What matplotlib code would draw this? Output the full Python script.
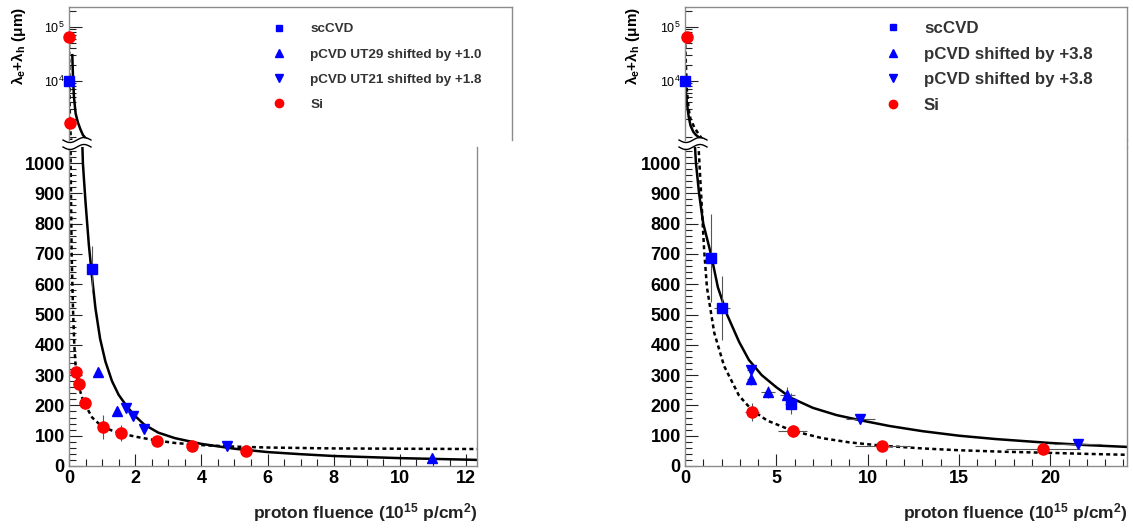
import numpy as np
import matplotlib.pyplot as plt
from matplotlib.lines import Line2D
from matplotlib.patches import Polygon
from matplotlib.ticker import MultipleLocator, LogLocator, FixedLocator, NullFormatter

plt.rcParams['font.family'] = ['Liberation Sans', 'DejaVu Sans']
plt.rcParams['mathtext.fontset'] = 'custom'
plt.rcParams['mathtext.rm'] = 'Liberation Sans:bold'
plt.rcParams['mathtext.bf'] = 'Liberation Sans:bold'
plt.rcParams['mathtext.it'] = 'Liberation Sans:italic'

# ---------------- data: left panel (fluence 1e15 p/cm2, lambda um) ----------------
sc_x_L = [0.0, 0.68]
sc_y_L = [10000, 650]
sc_ye_L = [2500, 75]
up_x_L = [0.88, 1.45, 10.96]
up_y_L = [310, 182, 26]
up_ye_L = [10, 12, 8]
dn_x_L = [1.72, 1.93, 2.27, 4.77]
dn_y_L = [190, 165, 122, 66]
dn_ye_L = [12, 10, 10, 8]
si_x_L = [0.0, 0.03, 0.21, 0.30, 0.48, 1.03, 1.57, 2.66, 3.72, 5.35]
si_y_L = [65000, 1660, 310, 270, 208, 129, 109, 83, 66, 50]
si_ye_L = [5000, 150, 20, 25, 20, 40, 25, 10, 8, 6]

fit_sc_x_L = [0.1, 0.12, 0.15, 0.2, 0.27, 0.35, 0.42, 0.45, 0.5, 0.6, 0.69, 0.8, 0.94,
              1.1, 1.3, 1.5, 1.76, 2.0, 2.27, 2.7, 3.2, 4, 5, 6, 7, 8, 10, 12.4]
fit_sc_y_L = [30000, 12000, 5000, 2500, 1700, 1250, 1000, 950, 870, 730, 630, 520, 420,
              345, 280, 235, 195, 165, 137, 110, 92, 73, 57, 46, 39, 33, 26, 20]
fit_si_x_L = [0.0, 0.01, 0.02, 0.03, 0.05, 0.08, 0.12, 0.16, 0.2, 0.25, 0.3, 0.4, 0.5,
              0.7, 1.0, 1.3, 1.6, 2.0, 2.6, 3.2, 4, 5, 6, 8, 10, 12.4]
fit_si_y_L = [65000, 15000, 4000, 1700, 1000, 700, 520, 400, 330, 290, 260, 225, 200,
              160, 130, 117, 107, 97, 85, 76, 69, 64, 61, 58, 57, 56]

# ---------------- data: right panel ----------------
sc_x_R = [0.0, 1.42, 2.03, 5.8]
sc_y_R = [10000, 686, 521, 205]
sc_ye_R = [0, 145, 105, 35]
sc_xe_R = [0, 0.3, 0.45, 0.3]
up_x_R = [3.6, 4.55, 5.6]
up_y_R = [287, 245, 235]
up_ye_R = [20, 20, 25]
up_xe_R = [0.2, 0.4, 0.4]
dn_x_R = [3.6, 9.6, 21.5]
dn_y_R = [317, 155, 73]
dn_ye_R = [20, 15, 15]
dn_xe_R = [0.2, 0.8, 1.3]
si_x_R = [0.1, 3.66, 5.9, 10.8, 19.6]
si_y_R = [65000, 179, 115, 67, 56]
si_ye_R = [0, 30, 20, 8, 8]
si_xe_R = [0, 0.4, 0.8, 1.5, 2.0]

fit_sc_x_R = [0.0, 0.1, 0.2, 0.3, 0.45, 0.6, 0.77, 1.0, 1.42, 1.8, 2.3, 2.96, 3.5, 4.2,
              5.0, 5.8, 7.0, 8.3, 9.6, 11.2, 13.0, 15.0, 17.0, 20.0, 22.0, 24.2]
fit_sc_y_R = [10000, 4000, 2200, 1500, 1150, 1000, 900, 800, 700, 590, 500, 410, 350, 300,
              260, 225, 192, 168, 151, 132, 115, 100, 89, 76, 69, 63]
fit_si_x_R = [0.0, 0.05, 0.1, 0.2, 0.3, 0.5, 0.7, 0.88, 1.04, 1.2, 1.6, 2.14, 2.96, 3.66,
              4.5, 5.9, 7.5, 9.0, 10.8, 13, 15, 17.5, 19.6, 22, 24.2]
fit_si_y_R = [65000, 20000, 7000, 3000, 2000, 1400, 1100, 900, 720, 590, 440, 330, 232, 185,
              150, 116, 92, 78, 67, 58, 52, 47, 44, 40, 37]

labels_L = ['scCVD', 'pCVD UT29 shifted by +1.0', 'pCVD UT21 shifted by +1.8', 'Si']
labels_R = ['scCVD', 'pCVD shifted by +3.8', 'pCVD shifted by +3.8', 'Si']

BLUE = '#0000ff'
RED = '#ff0000'
FRAME = '#8c8c8c'
LIN_TOP = 1053

W, H = 1133, 530
fig = plt.figure(figsize=(W / 100, H / 100), dpi=100)


def box(x0, x1, y0, y1):
    # pixel box (origin top-left) -> figure fraction rect
    return [x0 / W, 1 - y1 / H, (x1 - x0) / W, (y1 - y0) / H]


def style(ax):
    for s in ax.spines.values():
        s.set_color(FRAME)
        s.set_linewidth(1.0)
    ax.tick_params(which='both', direction='in', top=False, right=False, color='#222222')
    ax.tick_params(which='major', length=9, width=0.8)
    ax.tick_params(which='minor', length=5, width=0.8)


def series(axt, axb, x, y, yerr, xerr, marker, color, ms):
    x = np.asarray(x, float)
    y = np.asarray(y, float)
    ye = np.asarray(yerr, float)
    xe = np.zeros_like(x) if xerr is None else np.asarray(xerr, float)
    hi = y > LIN_TOP
    for ax, m in ((axt, hi), (axb, ~hi)):
        if not m.any():
            continue
        ax.errorbar(x[m], y[m], yerr=ye[m], xerr=xe[m], fmt='none', ecolor='#555555',
                    elinewidth=0.8, capsize=0, zorder=3)
        ax.plot(x[m], y[m], linestyle='none', marker=marker, color=color, ms=ms,
                mec=color, clip_on=False, zorder=4)


def panel(xl, xr_b, xr_t, xmax_b, xmax_t, major, minor, data, fits, labels,
          leg_x, leg_y, leg_fs, leg_pad, leg_sp, leg_hl, ylab_x, bridge):
    axt = fig.add_axes(box(xl, xr_t, 7, 140))
    axb = fig.add_axes(box(xl, xr_b, 147, 466))
    for ax in (axt, axb):
        style(ax)
    axt.set_yscale('log')
    axt.set_ylim(807, 2.34e5)
    axt.set_xlim(0, xmax_t)
    axt.spines['bottom'].set_visible(False)
    axt.set_xticks([])
    axt.yaxis.set_major_locator(FixedLocator([1e4, 1e5]))
    axt.yaxis.set_minor_locator(LogLocator(base=10, subs=np.arange(2, 10), numticks=20))
    axt.yaxis.set_minor_formatter(NullFormatter())
    axt.tick_params(axis='y', labelsize=9, pad=3)

    axb.set_ylim(0, LIN_TOP)
    axb.set_xlim(0, xmax_b)
    axb.spines['top'].set_visible(False)
    axb.set_yticks(np.arange(0, 1001, 100))
    axb.yaxis.set_minor_locator(MultipleLocator(20))
    axb.xaxis.set_major_locator(MultipleLocator(major))
    axb.xaxis.set_minor_locator(MultipleLocator(minor))
    axb.tick_params(axis='both', labelsize=13, pad=3)
    for lab in axb.get_xticklabels() + axb.get_yticklabels():
        lab.set_fontweight('bold')

    # fitted curves
    (fsx, fsy), (fix, fiy) = fits
    for ax in (axt, axb):
        ax.plot(fsx, fsy, color='black', lw=1.8, zorder=2)
        ax.plot(fix, fiy, color='black', lw=1.8, ls=(0, (1.6, 1.3)), zorder=2)

    markers = [('s', BLUE, 6.5), ('^', BLUE, 7.5), ('v', BLUE, 7.5), ('o', RED, 8)]
    for (x, y, ye, xe), (mk, col, ms) in zip(data, markers):
        series(axt, axb, x, y, ye, xe, mk, col, ms)

    handles = [Line2D([], [], ls='none', marker=mk, color=col, ms=ms * 0.75)
               for mk, col, ms in markers]
    fig.legend(handles, labels, loc='upper left',
               bbox_to_anchor=(leg_x / W, 1 - leg_y / H), bbox_transform=fig.transFigure,
               frameon=False, borderpad=0, borderaxespad=0, handlelength=leg_hl,
               handletextpad=leg_pad, labelspacing=leg_sp, numpoints=1,
               prop={'weight': 'bold', 'size': leg_fs}, labelcolor='#333333')

    # axis-break symbol on the left axis
    t = np.linspace(0, 1, 60)
    xs = xl - 6 + 28 * t
    wave = 2.5 * np.sin(2 * np.pi * t)
    verts = np.column_stack([np.r_[xs, xs[::-1]],
                             np.r_[140 + wave + 0.8, (147 + wave - 0.8)[::-1]]])
    fig.add_artist(Polygon(np.column_stack([verts[:, 0] / W, 1 - verts[:, 1] / H]),
                           closed=True, fc='white', ec='none', zorder=5))
    for yc in (140, 147):
        fig.add_artist(Line2D(xs / W, 1 - (yc + wave) / H, color='black', lw=1.0,
                              zorder=6))
    if bridge:
        fig.add_artist(Line2D([xr_b / W, xr_b / W], [1 - 140 / H, 1 - 147 / H],
                              color=FRAME, lw=1.0))

    fig.text(ylab_x / W, 1 - 7 / H, r'λ$_\mathrm{e}$+λ$_\mathrm{h}$ (μm)', rotation=90,
             ha='center', va='top', fontsize=11, fontweight='bold')
    fig.text(xr_b / W, 1 - 513 / H, r'proton fluence (10$^{15}$ p/cm$^{2}$)',
             ha='right', va='center', fontsize=12.5, fontweight='bold', color='#222222')
    return axt, axb


data_L = [(sc_x_L, sc_y_L, sc_ye_L, None), (up_x_L, up_y_L, up_ye_L, None),
          (dn_x_L, dn_y_L, dn_ye_L, None), (si_x_L, si_y_L, si_ye_L, None)]
data_R = [(sc_x_R, sc_y_R, sc_ye_R, sc_xe_R), (up_x_R, up_y_R, up_ye_R, up_xe_R),
          (dn_x_R, dn_y_R, dn_ye_R, dn_xe_R), (si_x_R, si_y_R, si_ye_R, si_xe_R)]

panel(69, 477, 512, 12.33, 13.38, 2, 0.5, data_L,
      [(fit_sc_x_L, fit_sc_y_L), (fit_si_x_L, fit_si_y_L)], labels_L,
      270, 23, 9.7, 1.7, 0.95, 1.3, 18, False)
panel(685, 1127, 1127, 24.2, 24.2, 5, 1, data_R,
      [(fit_sc_x_R, fit_sc_y_R), (fit_si_x_R, fit_si_y_R)], labels_R,
      885, 21, 12.2, 1.3, 0.62, 1.0, 632, True)

fig.savefig('out.png', dpi=100, facecolor='white')
